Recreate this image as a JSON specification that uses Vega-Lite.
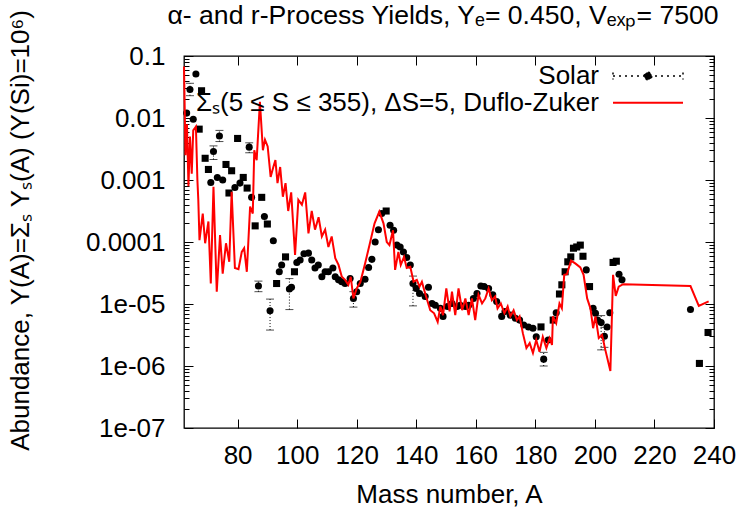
{
  "$schema": "https://vega.github.io/schema/vega-lite/v6.json",
  "width": 530,
  "height": 372,
  "autosize": {"type": "none"},
  "padding": {"left": 184, "top": 56, "right": 26, "bottom": 84},
  "background": "white",
  "config": {
    "font": "Liberation Sans",
    "view": {"stroke": "black", "strokeWidth": 1.3},
    "axis": {"grid": false, "domain": false, "tickColor": "black", "labelColor": "black", "titleColor": "black", "labelFontSize": 26, "titleFontSize": 26, "titleFontWeight": "normal", "labelFont": "Liberation Sans", "titleFont": "Liberation Sans"},
    "legend": {"labelFontSize": 26, "labelFont": "Liberation Sans", "labelColor": "black", "labelLimit": 700}
  },
  "title": {"text": "α- and r-Process Yields, Yₑ= 0.450, Vₑₓₚ= 7500", "fontSize": 26.6, "font": "Liberation Sans", "fontWeight": "normal", "anchor": "middle", "offset": -20, "dx": -6, "color": "black"},
  "datasets": {
    "solar": [
      {"A": 62.9, "Y": 1.20e-2, "kind": "c"}, {"A": 64.0, "Y": 2.88e-2, "kind": "c"}, {"A": 65.1, "Y": 9.55e-3, "kind": "c"},
      {"A": 66.0, "Y": 5.13e-2, "kind": "c"}, {"A": 67.1, "Y": 6.61e-3, "kind": "s"}, {"A": 67.9, "Y": 2.75e-2, "kind": "s"},
      {"A": 69.1, "Y": 2.24e-3, "kind": "s"}, {"A": 70.2, "Y": 1.48e-3, "kind": "s"}, {"A": 71.0, "Y": 9.12e-4, "kind": "c"},
      {"A": 71.9, "Y": 2.88e-3, "kind": "c"}, {"A": 73.2, "Y": 1.10e-3, "kind": "c"}, {"A": 73.9, "Y": 5.13e-3, "kind": "c"},
      {"A": 75.0, "Y": 1.0e-3, "kind": "c"}, {"A": 76.1, "Y": 1.78e-3, "kind": "s"}, {"A": 77.1, "Y": 6.17e-4, "kind": "s"},
      {"A": 78.0, "Y": 1.41e-3, "kind": "s"}, {"A": 79.1, "Y": 7.59e-4, "kind": "c"}, {"A": 80.0, "Y": 4.68e-3, "kind": "s"},
      {"A": 80.8, "Y": 8.91e-4, "kind": "c"}, {"A": 81.9, "Y": 1.10e-3, "kind": "s"}, {"A": 83.2, "Y": 7.41e-4, "kind": "s"},
      {"A": 83.9, "Y": 3.39e-3, "kind": "c"}, {"A": 84.7, "Y": 5.25e-4, "kind": "c"}, {"A": 85.9, "Y": 1.82e-4, "kind": "s"},
      {"A": 87.0, "Y": 1.95e-5, "kind": "c"}, {"A": 88.1, "Y": 5.25e-4, "kind": "s"}, {"A": 89.0, "Y": 2.57e-4, "kind": "c"},
      {"A": 90.0, "Y": 1.95e-4, "kind": "s"}, {"A": 90.9, "Y": 7.76e-6, "kind": "c"}, {"A": 92.0, "Y": 1.05e-4, "kind": "c"},
      {"A": 93.1, "Y": 2.14e-5, "kind": "s"}, {"A": 94.0, "Y": 3.31e-5, "kind": "c"}, {"A": 94.8, "Y": 4.27e-5, "kind": "c"},
      {"A": 96.1, "Y": 5.75e-5, "kind": "s"}, {"A": 97.4, "Y": 1.74e-5, "kind": "c"}, {"A": 98.1, "Y": 1.86e-5, "kind": "c"},
      {"A": 99.1, "Y": 3.31e-5, "kind": "s"}, {"A": 99.9, "Y": 4.68e-5, "kind": "c"}, {"A": 101.0, "Y": 5.13e-5, "kind": "c"},
      {"A": 102.3, "Y": 6.46e-5, "kind": "c"}, {"A": 103.8, "Y": 6.61e-5, "kind": "c"}, {"A": 104.9, "Y": 5.13e-5, "kind": "c"},
      {"A": 106.0, "Y": 3.80e-5, "kind": "c"}, {"A": 107.1, "Y": 4.27e-5, "kind": "c"}, {"A": 108.3, "Y": 2.75e-5, "kind": "c"},
      {"A": 109.4, "Y": 3.31e-5, "kind": "c"}, {"A": 110.5, "Y": 3.31e-5, "kind": "c"}, {"A": 112.0, "Y": 3.80e-5, "kind": "c"},
      {"A": 112.8, "Y": 2.75e-5, "kind": "c"}, {"A": 113.9, "Y": 2.45e-5, "kind": "c"}, {"A": 115.0, "Y": 2.29e-5, "kind": "c"},
      {"A": 116.1, "Y": 2.14e-5, "kind": "c"}, {"A": 117.8, "Y": 2.57e-5, "kind": "c"}, {"A": 118.9, "Y": 1.23e-5, "kind": "c"},
      {"A": 120.0, "Y": 1.58e-5, "kind": "c"}, {"A": 121.2, "Y": 2.14e-5, "kind": "c"}, {"A": 122.8, "Y": 2.51e-5, "kind": "c"},
      {"A": 124.0, "Y": 3.89e-5, "kind": "c"}, {"A": 125.1, "Y": 5.25e-5, "kind": "c"}, {"A": 126.2, "Y": 1.0e-4, "kind": "c"},
      {"A": 127.3, "Y": 1.58e-4, "kind": "c"}, {"A": 128.4, "Y": 2.88e-4, "kind": "c"}, {"A": 129.9, "Y": 3.16e-4, "kind": "s"},
      {"A": 131.2, "Y": 1.86e-4, "kind": "c"}, {"A": 132.4, "Y": 1.55e-4, "kind": "c"}, {"A": 133.5, "Y": 8.91e-5, "kind": "c"},
      {"A": 134.6, "Y": 8.32e-5, "kind": "c"}, {"A": 135.7, "Y": 6.92e-5, "kind": "c"}, {"A": 136.8, "Y": 5.62e-5, "kind": "c"},
      {"A": 138.0, "Y": 4.27e-5, "kind": "c"}, {"A": 138.9, "Y": 2.14e-5, "kind": "c"}, {"A": 140.0, "Y": 1.78e-5, "kind": "c"},
      {"A": 141.1, "Y": 1.48e-5, "kind": "c"}, {"A": 143.0, "Y": 1.32e-5, "kind": "c"}, {"A": 144.1, "Y": 1.86e-5, "kind": "c"},
      {"A": 145.3, "Y": 1.02e-5, "kind": "c"}, {"A": 146.4, "Y": 9.55e-6, "kind": "c"}, {"A": 148.1, "Y": 8.51e-6, "kind": "c"},
      {"A": 149.0, "Y": 6.31e-6, "kind": "c"}, {"A": 150.5, "Y": 9.12e-6, "kind": "c"}, {"A": 152.0, "Y": 1.02e-5, "kind": "c"},
      {"A": 153.7, "Y": 9.12e-6, "kind": "c"}, {"A": 154.8, "Y": 9.55e-6, "kind": "c"}, {"A": 156.5, "Y": 9.12e-6, "kind": "c"},
      {"A": 157.6, "Y": 9.55e-6, "kind": "c"}, {"A": 159.2, "Y": 1.23e-5, "kind": "c"}, {"A": 160.4, "Y": 1.48e-5, "kind": "c"},
      {"A": 161.7, "Y": 1.95e-5, "kind": "c"}, {"A": 162.8, "Y": 1.91e-5, "kind": "c"}, {"A": 164.3, "Y": 1.78e-5, "kind": "c"},
      {"A": 165.7, "Y": 1.41e-5, "kind": "c"}, {"A": 167.0, "Y": 1.10e-5, "kind": "c"}, {"A": 168.7, "Y": 6.31e-6, "kind": "c"},
      {"A": 169.8, "Y": 7.59e-6, "kind": "c"}, {"A": 171.6, "Y": 6.61e-6, "kind": "c"}, {"A": 173.3, "Y": 5.89e-6, "kind": "c"},
      {"A": 174.7, "Y": 5.50e-6, "kind": "c"}, {"A": 176.1, "Y": 4.57e-6, "kind": "c"}, {"A": 177.7, "Y": 4.27e-6, "kind": "c"},
      {"A": 179.2, "Y": 4.07e-6, "kind": "c"}, {"A": 180.3, "Y": 2.95e-6, "kind": "c"}, {"A": 181.9, "Y": 4.27e-6, "kind": "s"},
      {"A": 182.8, "Y": 1.29e-6, "kind": "c"}, {"A": 184.3, "Y": 2.63e-6, "kind": "c"}, {"A": 186.0, "Y": 5.50e-6, "kind": "s"},
      {"A": 187.0, "Y": 7.24e-6, "kind": "c"}, {"A": 188.1, "Y": 1.45e-5, "kind": "s"}, {"A": 188.9, "Y": 2.04e-5, "kind": "s"},
      {"A": 190.0, "Y": 3.31e-5, "kind": "s"}, {"A": 190.9, "Y": 4.79e-5, "kind": "s"}, {"A": 191.9, "Y": 5.75e-5, "kind": "s"},
      {"A": 192.8, "Y": 7.94e-5, "kind": "s"}, {"A": 193.9, "Y": 8.32e-5, "kind": "s"}, {"A": 195.1, "Y": 8.91e-5, "kind": "s"},
      {"A": 196.0, "Y": 5.89e-5, "kind": "s"}, {"A": 197.1, "Y": 3.55e-5, "kind": "c"}, {"A": 198.2, "Y": 1.91e-5, "kind": "s"},
      {"A": 199.4, "Y": 8.51e-6, "kind": "c"}, {"A": 200.2, "Y": 7.08e-6, "kind": "c"}, {"A": 200.9, "Y": 5.50e-6, "kind": "c"},
      {"A": 202.1, "Y": 5.01e-6, "kind": "c"}, {"A": 203.2, "Y": 3.02e-6, "kind": "c"}, {"A": 204.1, "Y": 4.27e-6, "kind": "c"},
      {"A": 205.0, "Y": 7.24e-6, "kind": "c"}, {"A": 206.1, "Y": 4.68e-5, "kind": "s"}, {"A": 207.2, "Y": 4.90e-5, "kind": "s"},
      {"A": 208.1, "Y": 3.02e-5, "kind": "c"}, {"A": 209.1, "Y": 2.45e-5, "kind": "c"}, {"A": 232.1, "Y": 8.13e-6, "kind": "c"},
      {"A": 235.1, "Y": 1.10e-6, "kind": "s"}, {"A": 238.0, "Y": 3.47e-6, "kind": "s"}
    ],
    "err": [
      {"A": 64.0, "lo": 2.29e-2, "hi": 3.63e-2}, {"A": 71.9, "lo": 2.14e-3, "hi": 3.55e-3},
      {"A": 73.9, "lo": 4.17e-3, "hi": 6.31e-3}, {"A": 83.9, "lo": 2.75e-3, "hi": 3.98e-3},
      {"A": 87.0, "lo": 1.58e-5, "hi": 2.34e-5}, {"A": 90.9, "lo": 3.80e-6, "hi": 1.20e-5},
      {"A": 97.4, "lo": 8.13e-6, "hi": 2.57e-5}, {"A": 118.9, "lo": 8.91e-6, "hi": 1.58e-5},
      {"A": 138.9, "lo": 9.33e-6, "hi": 2.82e-5}, {"A": 182.8, "lo": 1.0e-6, "hi": 1.66e-6},
      {"A": 202.1, "lo": 1.82e-6, "hi": 6.5e-6}, {"A": 203.2, "lo": 2.0e-6, "hi": 4.2e-6}
    ],
    "dz": [
      {"A": 62.0, "Y": 6.76e-2}, {"A": 62.5, "Y": 2.51e-3}, {"A": 63.0, "Y": 7.94e-3}, {"A": 63.5, "Y": 7.94e-4},
      {"A": 64.0, "Y": 5.01e-3}, {"A": 64.6, "Y": 1.26e-3}, {"A": 65.1, "Y": 6.31e-3}, {"A": 66.0, "Y": 7.24e-3},
      {"A": 66.5, "Y": 1.0e-3}, {"A": 66.8, "Y": 4.79e-4}, {"A": 67.2, "Y": 1.07e-4}, {"A": 68.3, "Y": 2.88e-4},
      {"A": 69.1, "Y": 9.55e-5}, {"A": 70.2, "Y": 2.14e-4}, {"A": 71.0, "Y": 2.14e-5}, {"A": 71.9, "Y": 7.76e-4},
      {"A": 73.0, "Y": 1.58e-5}, {"A": 74.1, "Y": 1.29e-4}, {"A": 75.0, "Y": 3.09e-5}, {"A": 76.1, "Y": 9.55e-5},
      {"A": 77.2, "Y": 4.79e-5}, {"A": 78.0, "Y": 6.46e-4}, {"A": 79.1, "Y": 3.80e-5}, {"A": 80.3, "Y": 3.63e-5},
      {"A": 81.4, "Y": 6.92e-5}, {"A": 82.2, "Y": 7.94e-5}, {"A": 83.1, "Y": 3.31e-5}, {"A": 84.2, "Y": 3.72e-4},
      {"A": 85.1, "Y": 2.88e-4}, {"A": 85.6, "Y": 3.02e-3}, {"A": 86.4, "Y": 2.09e-3}, {"A": 87.5, "Y": 1.82e-2},
      {"A": 88.5, "Y": 3.02e-3}, {"A": 89.2, "Y": 4.47e-3}, {"A": 90.1, "Y": 3.47e-3}, {"A": 91.1, "Y": 1.12e-3},
      {"A": 92.0, "Y": 1.62e-3}, {"A": 92.7, "Y": 2.09e-3}, {"A": 93.4, "Y": 8.91e-4}, {"A": 94.3, "Y": 1.62e-3},
      {"A": 95.2, "Y": 5.37e-4}, {"A": 96.1, "Y": 8.91e-4}, {"A": 97.0, "Y": 3.16e-4}, {"A": 98.0, "Y": 6.31e-4},
      {"A": 99.3, "Y": 6.17e-5}, {"A": 100.4, "Y": 4.79e-4}, {"A": 101.6, "Y": 3.98e-4}, {"A": 102.7, "Y": 6.31e-4},
      {"A": 103.8, "Y": 1.38e-4}, {"A": 104.9, "Y": 3.16e-4}, {"A": 106.0, "Y": 1.58e-4}, {"A": 107.2, "Y": 2.51e-4},
      {"A": 108.3, "Y": 1.23e-4}, {"A": 109.4, "Y": 1.58e-4}, {"A": 110.5, "Y": 8.32e-5}, {"A": 111.6, "Y": 1.23e-4},
      {"A": 112.8, "Y": 5.50e-5}, {"A": 113.9, "Y": 4.27e-5}, {"A": 115.0, "Y": 2.75e-5}, {"A": 116.1, "Y": 2.45e-5},
      {"A": 117.2, "Y": 2.04e-5}, {"A": 118.0, "Y": 2.75e-5}, {"A": 118.9, "Y": 1.23e-5}, {"A": 120.0, "Y": 1.78e-5},
      {"A": 121.2, "Y": 2.24e-5}, {"A": 122.8, "Y": 4.47e-5}, {"A": 124.3, "Y": 8.91e-5}, {"A": 126.0, "Y": 2.0e-4},
      {"A": 127.6, "Y": 3.09e-4}, {"A": 129.0, "Y": 2.0e-4}, {"A": 130.1, "Y": 1.0e-4}, {"A": 131.0, "Y": 8.91e-5},
      {"A": 132.2, "Y": 1.55e-4}, {"A": 132.9, "Y": 3.55e-5}, {"A": 134.0, "Y": 6.92e-5}, {"A": 134.8, "Y": 4.27e-5},
      {"A": 135.9, "Y": 5.75e-5}, {"A": 136.8, "Y": 3.80e-5}, {"A": 138.0, "Y": 3.98e-5}, {"A": 139.1, "Y": 2.29e-5},
      {"A": 140.2, "Y": 2.45e-5}, {"A": 141.1, "Y": 1.91e-5}, {"A": 141.9, "Y": 2.29e-5}, {"A": 143.0, "Y": 1.48e-5},
      {"A": 144.7, "Y": 7.94e-6}, {"A": 146.0, "Y": 7.08e-6}, {"A": 147.2, "Y": 5.13e-6}, {"A": 148.1, "Y": 9.12e-6},
      {"A": 149.0, "Y": 6.61e-6}, {"A": 150.1, "Y": 1.78e-5}, {"A": 151.2, "Y": 7.59e-6}, {"A": 152.0, "Y": 1.58e-5},
      {"A": 153.1, "Y": 6.61e-6}, {"A": 154.2, "Y": 1.78e-5}, {"A": 155.4, "Y": 7.94e-6}, {"A": 156.5, "Y": 1.23e-5},
      {"A": 157.6, "Y": 6.61e-6}, {"A": 158.7, "Y": 1.23e-5}, {"A": 159.8, "Y": 5.50e-6}, {"A": 160.9, "Y": 1.41e-5},
      {"A": 162.1, "Y": 1.02e-5}, {"A": 163.2, "Y": 1.23e-5}, {"A": 164.3, "Y": 1.78e-5}, {"A": 165.4, "Y": 1.15e-5},
      {"A": 166.5, "Y": 1.32e-5}, {"A": 167.3, "Y": 8.51e-6}, {"A": 168.4, "Y": 1.02e-5}, {"A": 169.6, "Y": 7.08e-6},
      {"A": 170.7, "Y": 9.12e-6}, {"A": 171.6, "Y": 6.31e-6}, {"A": 172.7, "Y": 7.94e-6}, {"A": 173.8, "Y": 5.50e-6},
      {"A": 174.7, "Y": 6.31e-6}, {"A": 175.8, "Y": 3.39e-6}, {"A": 177.0, "Y": 1.95e-6}, {"A": 178.1, "Y": 2.34e-6},
      {"A": 179.2, "Y": 1.62e-6}, {"A": 180.3, "Y": 2.63e-6}, {"A": 181.4, "Y": 1.70e-6}, {"A": 182.5, "Y": 2.95e-6},
      {"A": 183.7, "Y": 1.95e-6}, {"A": 184.8, "Y": 2.82e-6}, {"A": 185.6, "Y": 2.19e-6}, {"A": 185.9, "Y": 6.31e-6},
      {"A": 187.0, "Y": 4.90e-6}, {"A": 188.1, "Y": 1.02e-5}, {"A": 188.9, "Y": 8.51e-6}, {"A": 189.7, "Y": 2.95e-5},
      {"A": 190.6, "Y": 3.02e-5}, {"A": 192.0, "Y": 5.01e-5}, {"A": 193.5, "Y": 4.47e-5}, {"A": 195.1, "Y": 3.89e-5},
      {"A": 196.2, "Y": 2.95e-5}, {"A": 197.4, "Y": 1.23e-5}, {"A": 198.5, "Y": 8.51e-6}, {"A": 199.4, "Y": 4.07e-6},
      {"A": 200.2, "Y": 6.31e-6}, {"A": 201.3, "Y": 2.82e-6}, {"A": 202.4, "Y": 3.16e-6}, {"A": 203.5, "Y": 1.82e-6},
      {"A": 205.2, "Y": 8.32e-7}, {"A": 206.1, "Y": 2.95e-5}, {"A": 207.0, "Y": 1.35e-5}, {"A": 208.0, "Y": 1.91e-5},
      {"A": 209.5, "Y": 2.09e-5}, {"A": 232.1, "Y": 1.95e-5}, {"A": 234.9, "Y": 9.33e-6}, {"A": 238.2, "Y": 1.10e-5}
    ]
  },
  "resolve": {"axis": {"x": "independent", "y": "independent"}},
  "layer": [
    {
      "data": {"name": "err"},
      "mark": {"type": "rule", "color": "black", "strokeWidth": 1, "strokeDash": [1, 2]},
      "encoding": {
        "x": {"field": "A", "type": "quantitative", "scale": {"domain": [62, 240], "nice": false, "zero": false}, "axis": null},
        "y": {"field": "lo", "type": "quantitative", "scale": {"type": "log", "domain": [1e-7, 0.1], "nice": false}, "axis": null},
        "y2": {"field": "hi"}
      }
    },
    {
      "data": {"name": "err"},
      "mark": {"type": "tick", "orient": "horizontal", "color": "black", "size": 8, "thickness": 1, "strokeDash": [2, 2]},
      "encoding": {
        "x": {"field": "A", "type": "quantitative", "axis": null},
        "y": {"field": "lo", "type": "quantitative", "axis": null}
      }
    },
    {
      "data": {"name": "err"},
      "mark": {"type": "tick", "orient": "horizontal", "color": "black", "size": 8, "thickness": 1, "strokeDash": [2, 2]},
      "encoding": {
        "x": {"field": "A", "type": "quantitative", "axis": null},
        "y": {"field": "hi", "type": "quantitative", "axis": null}
      }
    },
    {
      "data": {"name": "solar"},
      "transform": [{"calculate": "'Solar'", "as": "series"}],
      "mark": {"type": "point", "filled": true, "opacity": 1, "size": 50},
      "encoding": {
        "x": {"field": "A", "type": "quantitative", "title": "Mass number, A",
          "axis": {"orient": "bottom", "values": [80, 100, 120, 140, 160, 180, 200, 220, 240], "tickSize": -9, "labelPadding": 23, "labelFlush": false, "titleX": 265, "titleY": 66, "titleBaseline": "middle"}},
        "y": {"field": "Y", "type": "quantitative", "title": "Abundance, Y(A)=Σₛ Yₛ(A) (Y(Si)=10⁶)",
          "axis": {"orient": "left",
            "values": [1e-7, 2e-7, 3e-7, 4e-7, 5e-7, 6e-7, 7e-7, 8e-7, 9e-7, 1e-6, 2e-6, 3e-6, 4e-6, 5e-6, 6e-6, 7e-6, 8e-6, 9e-6, 1e-5, 2e-5, 3e-5, 4e-5, 5e-5, 6e-5, 7e-5, 8e-5, 9e-5, 0.0001, 0.0002, 0.0003, 0.0004, 0.0005, 0.0006, 0.0007, 0.0008, 0.0009, 0.001, 0.002, 0.003, 0.004, 0.005, 0.006, 0.007, 0.008, 0.009, 0.01, 0.02, 0.03, 0.04, 0.05, 0.06, 0.07, 0.08, 0.09, 0.1],
            "tickSize": {"condition": {"test": "indexof([1e-7,1e-6,1e-5,0.0001,0.001,0.01,0.1], datum.value) >= 0", "value": -9}, "value": -5},
            "labelExpr": "datum.value == 0.1 ? '0.1' : datum.value == 0.01 ? '0.01' : datum.value == 0.001 ? '0.001' : datum.value == 0.0001 ? '0.0001' : datum.value == 1e-5 ? '1e-05' : datum.value == 1e-6 ? '1e-06' : datum.value == 1e-7 ? '1e-07' : ''",
            "labelPadding": 28, "labelFlush": false, "labelOverlap": false, "titleX": -164, "titleY": 174, "titleBaseline": "middle", "titleAngle": -90}},
        "shape": {"field": "kind", "type": "nominal", "scale": {"domain": ["c", "s"], "range": ["circle", "square"]}, "legend": null},
        "color": {"field": "series", "type": "nominal", "scale": {"domain": ["Solar"], "range": ["black"]},
          "legend": {"title": null, "orient": "none", "legendX": 428, "legendY": -16, "padding": 0,
            "symbolType": "M-1,0L1,0M-1,-0.1L-1,0.1M1,-0.1L1,0.1M-0.11,0A0.11,0.11,0,1,1,0.11,0A0.11,0.11,0,1,1,-0.11,0Z",
            "symbolSize": 4900, "symbolDash": [2, 4], "symbolStrokeWidth": 1.5, "symbolStrokeColor": "black", "symbolFillColor": "black", "symbolOpacity": 1,
            "labelAlign": "right", "labelOffset": -85,
            "encoding": {"symbols": {
              "stroke": {"value": "black"},
              "fill": {"value": "black"},
              "strokeDash": {"value": [2, 4]},
              "strokeWidth": {"value": 1.5},
              "opacity": {"value": 1}
            }}}}
      }
    },
    {
      "data": {"name": "dz"},
      "transform": [{"calculate": "'Σₛ(5 ≤ S ≤ 355), ΔS=5, Duflo-Zuker'", "as": "series"}],
      "mark": {"type": "line", "strokeWidth": 2},
      "encoding": {
        "x": {"field": "A", "type": "quantitative", "axis": {"orient": "top", "labels": false, "title": null, "values": [80, 100, 120, 140, 160, 180, 200, 220, 240], "tickSize": -9}},
        "y": {"field": "Y", "type": "quantitative",
          "axis": {"orient": "right", "labels": false, "title": null,
            "values": [1e-7, 2e-7, 3e-7, 4e-7, 5e-7, 6e-7, 7e-7, 8e-7, 9e-7, 1e-6, 2e-6, 3e-6, 4e-6, 5e-6, 6e-6, 7e-6, 8e-6, 9e-6, 1e-5, 2e-5, 3e-5, 4e-5, 5e-5, 6e-5, 7e-5, 8e-5, 9e-5, 0.0001, 0.0002, 0.0003, 0.0004, 0.0005, 0.0006, 0.0007, 0.0008, 0.0009, 0.001, 0.002, 0.003, 0.004, 0.005, 0.006, 0.007, 0.008, 0.009, 0.01, 0.02, 0.03, 0.04, 0.05, 0.06, 0.07, 0.08, 0.09, 0.1],
            "tickSize": {"condition": {"test": "indexof([1e-7,1e-6,1e-5,0.0001,0.001,0.01,0.1], datum.value) >= 0", "value": -9}, "value": -5}}},
        "stroke": {"field": "series", "type": "nominal", "scale": {"range": ["red"]},
          "legend": {"title": null, "orient": "none", "legendX": 428, "legendY": 10.7, "padding": 0,
            "symbolType": "stroke", "symbolSize": 4900, "symbolStrokeWidth": 2, "symbolStrokeColor": "red", "symbolOpacity": 1,
            "labelAlign": "right", "labelOffset": -85,
            "encoding": {"symbols": {
              "stroke": {"value": "red"},
              "strokeWidth": {"value": 2},
              "opacity": {"value": 1}
            }}}},
        "order": {"field": "A", "type": "quantitative"}
      }
    }
  ]
}
